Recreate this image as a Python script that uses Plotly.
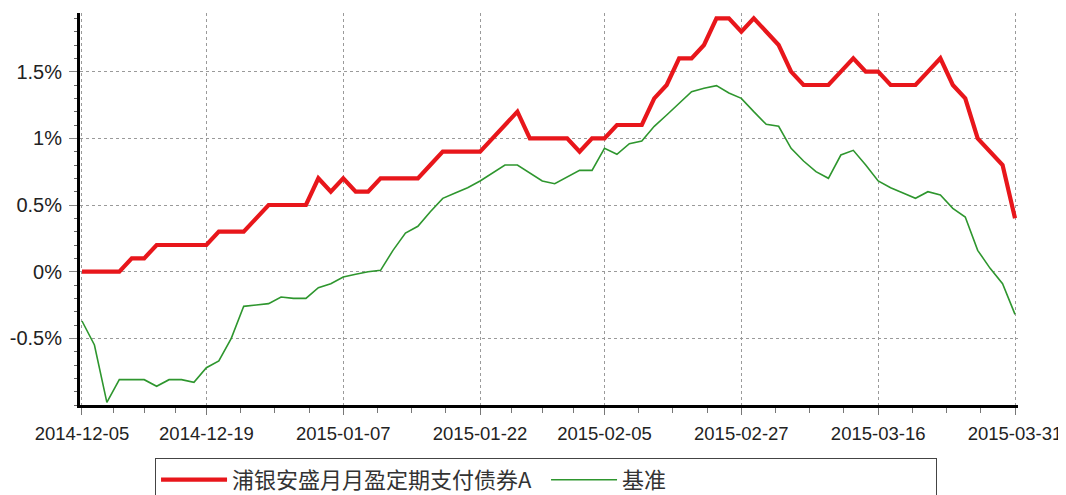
import numpy as np
import plotly.graph_objects as go

# Trading dates (category positions along the x axis)
dates = [
    "2014-12-05", "2014-12-08", "2014-12-09", "2014-12-10", "2014-12-11", "2014-12-12",
    "2014-12-15", "2014-12-16", "2014-12-17", "2014-12-18", "2014-12-19",
    "2014-12-22", "2014-12-23", "2014-12-24", "2014-12-25", "2014-12-26",
    "2014-12-29", "2014-12-30", "2014-12-31",
    "2015-01-05", "2015-01-06", "2015-01-07", "2015-01-08", "2015-01-09",
    "2015-01-12", "2015-01-13", "2015-01-14", "2015-01-15", "2015-01-16",
    "2015-01-19", "2015-01-20", "2015-01-21", "2015-01-22", "2015-01-23",
    "2015-01-26", "2015-01-27", "2015-01-28", "2015-01-29", "2015-01-30",
    "2015-02-02", "2015-02-03", "2015-02-04", "2015-02-05", "2015-02-06",
    "2015-02-09", "2015-02-10", "2015-02-11", "2015-02-12", "2015-02-13",
    "2015-02-16", "2015-02-17", "2015-02-25", "2015-02-26", "2015-02-27",
    "2015-03-02", "2015-03-03", "2015-03-04", "2015-03-05", "2015-03-06",
    "2015-03-09", "2015-03-10", "2015-03-11", "2015-03-12", "2015-03-13",
    "2015-03-16", "2015-03-17", "2015-03-18", "2015-03-19", "2015-03-20",
    "2015-03-23", "2015-03-24", "2015-03-25", "2015-03-26", "2015-03-27",
    "2015-03-30", "2015-03-31",
]

# Fund cumulative return (%)
fund = [
    0, 0, 0, 0, 0.1, 0.1, 0.2, 0.2, 0.2, 0.2,
    0.2, 0.3, 0.3, 0.3, 0.4, 0.5, 0.5, 0.5, 0.5, 0.7,
    0.6, 0.7, 0.6, 0.6, 0.7, 0.7, 0.7, 0.7, 0.8, 0.9,
    0.9, 0.9, 0.9, 1.0, 1.1, 1.2, 1.0, 1.0, 1.0, 1.0,
    0.9, 1.0, 1.0, 1.1, 1.1, 1.1, 1.3, 1.4, 1.6, 1.6,
    1.7, 1.9, 1.9, 1.8, 1.9, 1.8, 1.7, 1.5, 1.4, 1.4,
    1.4, 1.5, 1.6, 1.5, 1.5, 1.4, 1.4, 1.4, 1.5, 1.6,
    1.4, 1.3, 1.0, 0.9, 0.8, 0.4,
]

# Benchmark cumulative return (%)
bench = [
    -0.37, -0.55, -0.98, -0.81, -0.81, -0.81, -0.86, -0.81, -0.81, -0.83,
    -0.72, -0.67, -0.50, -0.26, -0.25, -0.24, -0.19, -0.20, -0.20, -0.12,
    -0.09, -0.04, -0.02, 0.00, 0.01, 0.16, 0.29, 0.34, 0.45, 0.55,
    0.59, 0.63, 0.68, 0.74, 0.80, 0.80, 0.74, 0.68, 0.66, 0.71,
    0.76, 0.76, 0.925, 0.88, 0.96, 0.98, 1.09, 1.175, 1.26, 1.35,
    1.375, 1.395, 1.34, 1.30, 1.20, 1.105, 1.09, 0.925, 0.83, 0.75,
    0.70, 0.875, 0.91, 0.80, 0.68, 0.63, 0.59, 0.55, 0.60, 0.575,
    0.475, 0.41, 0.16, 0.025, -0.09, -0.32,
]

tick_labels = ["2014-12-05", "2014-12-19", "2015-01-07", "2015-01-22",
               "2015-02-05", "2015-02-27", "2015-03-16", "2015-03-31"]
y_tick_vals = [-0.5, 0, 0.5, 1, 1.5]
y_tick_text = ["-0.5%", "0%", "0.5%", "1%", "1.5%"]

series_names = ["浦银安盛月月盈定期支付债券A", "基准"]

x = np.arange(len(dates))
tick_pos = [dates.index(d) for d in tick_labels]
minor_pos = []
for a, b in zip(tick_pos[:-1], tick_pos[1:]):
    for k in (1, 2, 3):
        minor_pos.append(a + (b - a) * k / 4)

fig = go.Figure()
fig.add_trace(go.Scatter(x=x, y=fund, mode="lines", name=series_names[0],
                         line=dict(color="#e8161b", width=4.2), customdata=dates))
fig.add_trace(go.Scatter(x=x, y=bench, mode="lines", name=series_names[1],
                         line=dict(color="#2e962e", width=1.6), customdata=dates))

grid = dict(showgrid=True, gridcolor="#9a9a9a", gridwidth=1, griddash="dot")

fig.update_layout(
    width=1066, height=495,
    margin=dict(l=72, r=56, t=5, b=98, pad=0, autoexpand=False),
    paper_bgcolor="white", plot_bgcolor="white",
    font=dict(family="Liberation Sans, Arial, sans-serif", size=20, color="#222"),
    showlegend=True,
    legend=dict(
        orientation="h", x=0.08, xanchor="left", y=-0.135, yanchor="top",
        bordercolor="#444", borderwidth=1, bgcolor="white",
        font=dict(family="Noto Sans CJK SC", size=22, color="#333"),
        entrywidth=309, entrywidthmode="pixels", itemwidth=66,
    ),
    xaxis=dict(
        range=[-0.16, 75.24], tickmode="array", tickvals=tick_pos, ticktext=tick_labels,
        showline=True, linecolor="black", linewidth=3, zeroline=False, automargin=False,
        ticks="outside", ticklen=7, tickcolor="#777", tickwidth=1, ticklabelstandoff=3,
        minor=dict(tickvals=minor_pos, ticks="outside", ticklen=5, tickcolor="#777", showgrid=False),
        tickfont=dict(size=18.5, color="#222"),
        **grid,
    ),
    yaxis=dict(
        range=[-1.0, 1.94], tickmode="array", tickvals=y_tick_vals, ticktext=y_tick_text,
        showline=True, linecolor="black", linewidth=3, zeroline=False, automargin=False,
        ticks="outside", ticklen=8, tickcolor="#888", tickwidth=1, ticklabelstandoff=3,
        minor=dict(dtick=0.1, tick0=0, ticks="outside", ticklen=3, tickcolor="#666", showgrid=False),
        tickfont=dict(size=20, color="#222"),
        **grid,
    ),
)

fig.write_html("out.html")
